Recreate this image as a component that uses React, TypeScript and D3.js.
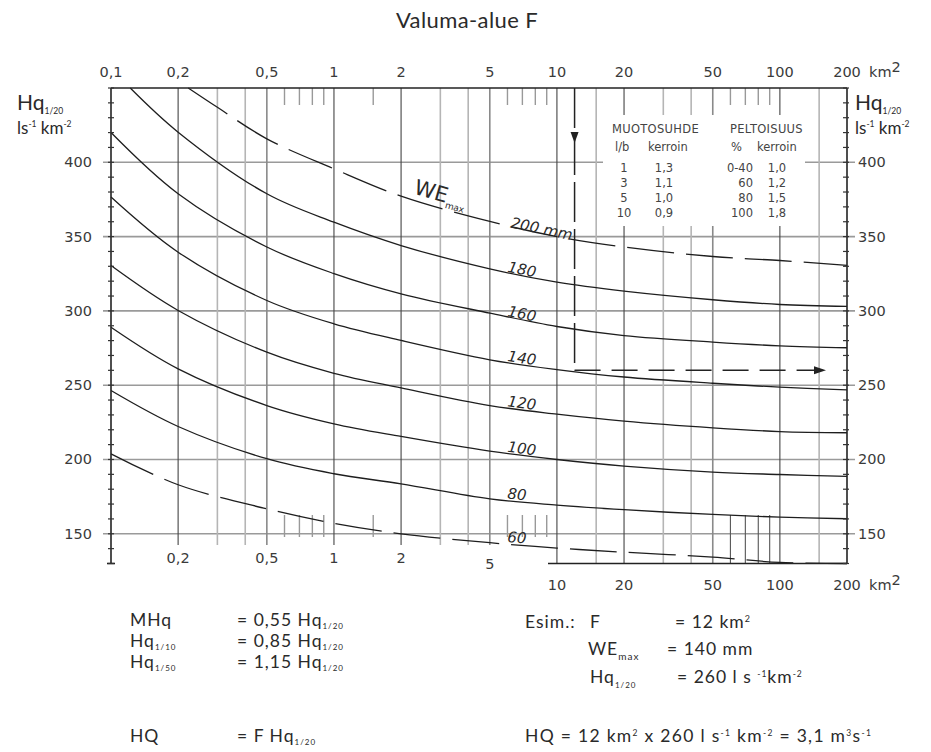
import React from 'react';
import * as d3 from 'd3';

const W = 931;
const H = 752;

const TITLE = 'Valuma-alue F';

// Catchment area (km²) read positions and Hq1/20 values (l s^-1 km^-2) per WEmax curve
const areaStd = [0.1, 0.2, 0.5, 1, 2, 5, 10, 20, 50, 100, 200];
const we200Areas = [0.222, 0.3, 0.5, 1, 2, 5, 10, 20, 50, 100, 200];
const we200Hq = [450, 437, 415.8, 395.6, 377.2, 360.2, 350, 343, 336.6, 333.9, 330.6];
const we180Areas = [0.122, 0.2, 0.5, 1, 2, 5, 10, 20, 50, 100, 200];
const we180Hq = [450, 420.3, 378.8, 359.7, 344, 328.3, 319.3, 313.3, 307.5, 304.3, 303];
const we160Hq = [420, 378.8, 343, 325.1, 311.5, 298.5, 289.5, 283.4, 279, 276.5, 275.2];
const we140Hq = [376.6, 339.5, 307, 291.3, 280.1, 267.1, 260.5, 255.5, 251.3, 248.7, 246.9];
const we120Hq = [330.5, 300.3, 272.2, 258, 248.2, 236.3, 230.5, 225.8, 221.3, 218.8, 218];
const we100Hq = [289, 261, 236.3, 224, 215.5, 205.6, 200, 195.5, 191.5, 189.9, 188.6];
const we80Hq = [246.4, 222.2, 200.5, 190.4, 183.6, 173.5, 169.3, 166.2, 163, 161.2, 160.1];
const we60Hq = [203.8, 183, 166.8, 157, 150, 144, 140.4, 137.6, 134.3, 130.7, 130];

const weLabels = ['200 mm', '180', '160', '140', '120', '100', '80', '60'];

// Axis ticks
const topTicks = [0.1, 0.2, 0.5, 1, 2, 5, 10, 20, 50, 100, 200];
const topTickLabels = ['0,1', '0,2', '0,5', '1', '2', '5', '10', '20', '50', '100', '200'];
const bottomLeftTicks = [0.2, 0.5, 1, 2, 5];
const bottomLeftLabels = ['0,2', '0,5', '1', '2', '5'];
const bottomRightTicks = [10, 20, 50, 100, 200];
const bottomRightLabels = ['10', '20', '50', '100', '200'];
const yTicks = [150, 200, 250, 300, 350, 400];
const yMinor = d3.range(130, 451, 10);

const darkGrid = [0.2, 1, 2, 10, 20, 100];
const midGrid = [0.5, 5, 50];
const lightGrid = [0.3, 0.4, 3, 4, 15, 30, 40, 150];
const shortTicks = [0.6, 0.7, 0.8, 0.9, 1.5, 6, 7, 8, 9];
const shortTicksLong = [60, 70, 80, 90];

// Inset table
const shapeRatio = ['1', '3', '5', '10'];
const shapeCoef = ['1,3', '1,1', '1,0', '0,9'];
const fieldPct = ['0-40', '60', '80', '100'];
const fieldCoef = ['1,0', '1,2', '1,5', '1,8'];

// Example
const exArea = 12;
const exHq = 260;

const FONT_SANS = 'Lato, "Open Sans", sans-serif';
const FONT_TECH = '"DejaVu Sans", sans-serif';
const INK = '#2a2a2a';

type Part = { t: string; sub?: boolean; sup?: boolean };

function Rich(props: {
  x: number; y: number; parts: Part[]; size: number; subSize?: number; supSize?: number;
  subDy?: number; supDy?: number; family?: string; fill?: string; anchor?: string; spacing?: number;
}) {
  const { x, y, parts, size, subSize = size * 0.45, supSize = size * 0.45, subDy = 5, supDy = 8,
    family = FONT_SANS, fill = INK, anchor = 'start', spacing } = props;
  let cur = 0;
  return (
    <text x={x} y={y} fontSize={size} fontFamily={family} fill={fill} textAnchor={anchor as any}
      letterSpacing={spacing}>
      {parts.map((p, i) => {
        const target = p.sub ? subDy : p.sup ? -supDy : 0;
        const dy = target - cur;
        cur = target;
        return (
          <tspan key={i} dy={dy !== 0 ? dy : undefined}
            fontSize={p.sub ? subSize : p.sup ? supSize : undefined}>{p.t}</tspan>
        );
      })}
    </text>
  );
}

export default function App() {
  const x = d3.scaleLog().domain([0.1, 200]).range([111, 847]);
  const y = d3.scaleLinear().domain([130, 450]).range([563.5, 88]);

  const series = [
    { areas: we200Areas, hq: we200Hq, dashed: true },
    { areas: we180Areas, hq: we180Hq, dashed: false },
    { areas: areaStd, hq: we160Hq, dashed: false },
    { areas: areaStd, hq: we140Hq, dashed: false },
    { areas: areaStd, hq: we120Hq, dashed: false },
    { areas: areaStd, hq: we100Hq, dashed: false },
    { areas: areaStd, hq: we80Hq, dashed: false },
    { areas: areaStd, hq: we60Hq, dashed: true },
  ].map((s, i) => ({ ...s, label: weLabels[i], pts: s.areas.map((a, j) => [a, s.hq[j]] as [number, number]) }));

  const line = d3.line<[number, number]>()
    .x(d => x(d[0]))
    .y(d => y(d[1]))
    .curve(d3.curveCatmullRom.alpha(0.5));

  const hqAt = (pts: [number, number][], a: number) => {
    const la = Math.log10(a);
    for (let i = 0; i < pts.length - 1; i++) {
      const l0 = Math.log10(pts[i][0]);
      const l1 = Math.log10(pts[i + 1][0]);
      if (la >= l0 && la <= l1) {
        const t = (la - l0) / (l1 - l0);
        return pts[i][1] + t * (pts[i + 1][1] - pts[i][1]);
      }
    }
    return pts[pts.length - 1][1];
  };
  const yAtPx = (pts: [number, number][], px: number) => y(hqAt(pts, x.invert(px)));
  const angleAt = (pts: [number, number][], px0: number, px1: number) =>
    (Math.atan2(yAtPx(pts, px1) - yAtPx(pts, px0), px1 - px0) * 180) / Math.PI;

  const yTop = y(450);
  const yBot = y(130);
  const yLeftEnd = 545;

  const exX = x(exArea);
  const exY = y(exHq);

  const fs = 17.5;
  const ls = 1.0;

  return (
    <svg width={W} height={H} style={{ position: 'absolute', left: 0, top: 0, background: '#fff' }}>
      <rect x={0} y={0} width={W} height={H} fill="#fff" />
      {/* Title */}
      <text x={467} y={28} textAnchor="middle" fontFamily={FONT_SANS} fontSize={22} fill={INK}
        letterSpacing={0.4}>{TITLE}</text>

      {/* Horizontal grid lines */}
      {yTicks.map(v => (
        <line key={'h' + v} x1={103} x2={855} y1={y(v)} y2={y(v)} stroke="#9a9a9a" strokeWidth={1.6} />
      ))}

      {/* Vertical grid lines */}
      {lightGrid.map(a => (
        <line key={'lg' + a} x1={x(a)} x2={x(a)} y1={yTop} y2={a < 10 ? yLeftEnd : yBot} stroke="#b5b5b5" strokeWidth={1.6} />
      ))}
      {midGrid.map(a => (
        <line key={'mg' + a} x1={x(a)} x2={x(a)} y1={yTop} y2={a < 10 ? yLeftEnd : yBot} stroke="#8a8a8a" strokeWidth={1.6} />
      ))}
      {darkGrid.map(a => (
        <line key={'dg' + a} x1={x(a)} x2={x(a)} y1={yTop} y2={a < 10 ? yLeftEnd : yBot} stroke="#444" strokeWidth={1.1} />
      ))}
      {shortTicks.map(a => (
        <g key={'st' + a}>
          <line x1={x(a)} x2={x(a)} y1={yTop} y2={yTop + 17} stroke="#999" strokeWidth={1.4} />
          <line x1={x(a)} x2={x(a)} y1={515} y2={537} stroke="#999" strokeWidth={1.4} />
        </g>
      ))}
      {shortTicksLong.map(a => (
        <g key={'stl' + a}>
          <line x1={x(a)} x2={x(a)} y1={yTop} y2={yTop + 17} stroke="#999" strokeWidth={1.4} />
          <line x1={x(a)} x2={x(a)} y1={515} y2={yBot} stroke="#555" strokeWidth={1.1} />
        </g>
      ))}

      {/* Inset table background */}
      <rect x={603} y={115} width={202} height={111} fill="#fff" />

      {/* Curves */}
      {series.map((s, i) => (
        <path key={'c' + i} d={line(s.pts) || ''} fill="none" stroke="#1e1e1e" strokeWidth={1.3}
          strokeDasharray={s.dashed ? '47 12' : undefined} />
      ))}

      {/* Curve labels */}
      {series.slice(1).map((s, i) => {
        const px = 507;
        const ang = angleAt(s.pts, 500, 540);
        return (
          <text key={'lab' + i} transform={`translate(${px},${yAtPx(s.pts, px + 12) - 3}) rotate(${ang})`}
            fontFamily={FONT_TECH} fontStyle="italic" fontSize={15} fill={INK}>{s.label}</text>
        );
      })}
      {(() => {
        const s = series[0];
        const a1 = angleAt(s.pts, 505, 575);
        const a0 = angleAt(s.pts, 410, 470);
        return (
          <g>
            <text transform={`translate(510,${yAtPx(s.pts, 525) - 2}) rotate(${a1})`}
              fontFamily={FONT_TECH} fontStyle="italic" fontSize={15} fill={INK}>{s.label}</text>
            <g transform={`translate(413,${yAtPx(s.pts, 420) - 8}) rotate(${a0})`}>
              <Rich x={0} y={0} size={21} family={FONT_TECH} subSize={9} subDy={5}
                parts={[{ t: 'WE' }, { t: 'max', sub: true }]} />
            </g>
          </g>
        );
      })()}

      {/* Example dashed lines */}
      <line x1={exX} x2={exX} y1={yTop} y2={exY} stroke="#222" strokeWidth={1.5} strokeDasharray="40 7" />
      <line x1={exX} x2={826} y1={exY} y2={exY} stroke="#222" strokeWidth={1.5} strokeDasharray="26 11" />
      <path d={`M${exX - 4},${132} L${exX},${143} L${exX + 4},${132} Z`} fill="#222" />
      <path d={`M${814},${exY - 4} L${826},${exY} L${814},${exY + 4} Z`} fill="#222" />

      {/* Inset table text */}
      <g fontFamily={FONT_TECH} fontSize={11.5} fill="#444">
        <text x={612} y={133} letterSpacing={0.3}>MUOTOSUHDE</text>
        <text x={730} y={133} letterSpacing={0.3}>PELTOISUUS</text>
        <text x={615} y={151}>l/b</text>
        <text x={648} y={151}>kerroin</text>
        <text x={731} y={151}>%</text>
        <text x={757} y={151}>kerroin</text>
        {shapeRatio.map((t, i) => (
          <text key={'sr' + i} x={624} y={172 + i * 15} textAnchor="middle">{t}</text>
        ))}
        {shapeCoef.map((t, i) => (
          <text key={'sc' + i} x={664} y={172 + i * 15} textAnchor="middle">{t}</text>
        ))}
        {fieldPct.map((t, i) => (
          <text key={'fp' + i} x={753} y={172 + i * 15} textAnchor="end">{t}</text>
        ))}
        {fieldCoef.map((t, i) => (
          <text key={'fc' + i} x={777} y={172 + i * 15} textAnchor="middle">{t}</text>
        ))}
      </g>

      {/* Axes */}
      <line x1={x(0.1)} x2={x(200)} y1={yTop} y2={yTop} stroke="#222" strokeWidth={1.6} />
      <line x1={x(0.1)} x2={x(0.1)} y1={yTop} y2={yBot} stroke="#222" strokeWidth={1.6} />
      <line x1={x(200)} x2={x(200)} y1={yTop} y2={yBot} stroke="#222" strokeWidth={1.6} />
      <line x1={548} x2={x(200)} y1={yBot} y2={yBot} stroke="#222" strokeWidth={1.6} />
      <line x1={x(0.1) - 4} x2={x(0.1) + 4} y1={yBot} y2={yBot} stroke="#222" strokeWidth={1.6} />
      {yMinor.map(v => (
        <g key={'ym' + v}>
          <line x1={x(0.1) - 3} x2={x(0.1) + 3} y1={y(v)} y2={y(v)} stroke="#333" strokeWidth={1.2} />
          <line x1={x(200) - 4} x2={x(200) + 2} y1={y(v)} y2={y(v)} stroke="#333" strokeWidth={1.2} />
        </g>
      ))}

      {/* Tick labels */}
      <g fontFamily={FONT_TECH} fontSize={14.5} fill="#3a3a3a">
        {topTicks.map((a, i) => (
          <text key={'tt' + a} x={x(a)} y={77} textAnchor="middle">{topTickLabels[i]}</text>
        ))}
        <text x={869} y={77}>km<tspan dy={-5}>2</tspan></text>
        {bottomLeftTicks.map((a, i) => (
          <text key={'bl' + a} x={x(a)} y={a === 5 ? 569 : 563} textAnchor="middle">{bottomLeftLabels[i]}</text>
        ))}
        {bottomRightTicks.map((a, i) => (
          <text key={'br' + a} x={x(a)} y={590} textAnchor="middle">{bottomRightLabels[i]}</text>
        ))}
        <text x={869} y={590}>km<tspan dy={-5}>2</tspan></text>
        {yTicks.map(v => (
          <g key={'yl' + v}>
            <text x={92} y={y(v) + 5} textAnchor="end">{v}</text>
            <text x={858} y={y(v) + 5}>{v}</text>
          </g>
        ))}
      </g>

      {/* Axis titles */}
      <Rich x={17} y={110} size={21} subSize={8.5} subDy={4} parts={[{ t: 'Hq' }, { t: '1/20', sub: true }]} />
      <Rich x={17} y={134} size={17} supSize={8.5} supDy={7}
        parts={[{ t: 'ls' }, { t: '-1', sup: true }, { t: ' km' }, { t: '-2', sup: true }]} />
      <Rich x={855} y={110} size={21} subSize={8.5} subDy={4} parts={[{ t: 'Hq' }, { t: '1/20', sub: true }]} />
      <Rich x={855} y={134} size={17} supSize={8.5} supDy={7}
        parts={[{ t: 'ls' }, { t: '-1', sup: true }, { t: ' km' }, { t: '-2', sup: true }]} />

      {/* Formula block left */}
      <Rich x={130} y={626} size={fs} spacing={ls} parts={[{ t: 'MHq' }]} />
      <Rich x={237} y={626} size={fs} spacing={ls} subSize={8} subDy={3} parts={[{ t: '= 0,55 Hq' }, { t: '1/20', sub: true }]} />
      <Rich x={130} y={647} size={fs} spacing={ls} subSize={8} subDy={3} parts={[{ t: 'Hq' }, { t: '1/10', sub: true }]} />
      <Rich x={237} y={647} size={fs} spacing={ls} subSize={8} subDy={3} parts={[{ t: '= 0,85 Hq' }, { t: '1/20', sub: true }]} />
      <Rich x={130} y={668} size={fs} spacing={ls} subSize={8} subDy={3} parts={[{ t: 'Hq' }, { t: '1/50', sub: true }]} />
      <Rich x={237} y={668} size={fs} spacing={ls} subSize={8} subDy={3} parts={[{ t: '= 1,15 Hq' }, { t: '1/20', sub: true }]} />
      <Rich x={130} y={742} size={fs} spacing={ls} parts={[{ t: 'HQ' }]} />
      <Rich x={237} y={742} size={fs} spacing={ls} subSize={8} subDy={3} parts={[{ t: '= F Hq' }, { t: '1/20', sub: true }]} />

      {/* Formula block right */}
      <Rich x={525} y={628} size={fs} spacing={ls} parts={[{ t: 'Esim.:' }]} />
      <Rich x={590} y={628} size={fs} spacing={ls} parts={[{ t: 'F' }]} />
      <Rich x={675} y={628} size={fs} spacing={ls} supSize={9} supDy={6} parts={[{ t: '= 12 km' }, { t: '2', sup: true }]} />
      <Rich x={588} y={655} size={fs} spacing={ls} subSize={10} subDy={5} parts={[{ t: 'WE' }, { t: 'max', sub: true }]} />
      <Rich x={667} y={655} size={fs} spacing={ls} parts={[{ t: '= 140 mm' }]} />
      <Rich x={590} y={683} size={fs} spacing={ls} subSize={8} subDy={5} parts={[{ t: 'Hq' }, { t: '1/20', sub: true }]} />
      <Rich x={677} y={683} size={fs} spacing={ls} supSize={8.5} supDy={6}
        parts={[{ t: '= 260 l s ' }, { t: '-1', sup: true }, { t: 'km' }, { t: '-2', sup: true }]} />
      <Rich x={525} y={742} size={fs} spacing={1.3} supSize={8.5} supDy={6}
        parts={[
          { t: 'HQ = 12 km' }, { t: '2', sup: true }, { t: ' x 260 l s' }, { t: '-1', sup: true },
          { t: ' km' }, { t: '-2', sup: true }, { t: ' = 3,1 m' }, { t: '3', sup: true }, { t: 's' }, { t: '-1', sup: true },
        ]} />
    </svg>
  );
}
